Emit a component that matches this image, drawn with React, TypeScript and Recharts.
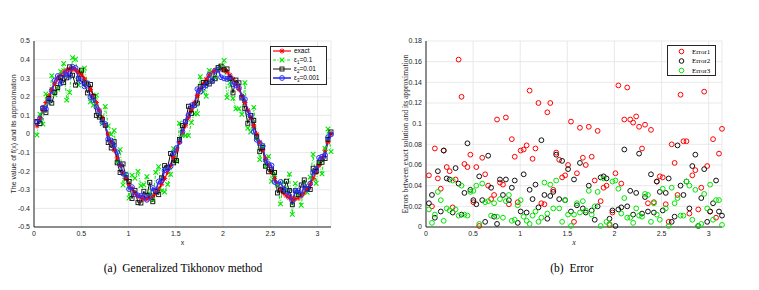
import { CartesianGrid, Line, LineChart, Scatter, ScatterChart, XAxis, YAxis } from 'recharts';

// grid points on (0, pi]
const xs = [
  0.031, 0.063, 0.094, 0.126, 0.157, 0.188, 0.22, 0.251, 0.283, 0.314,
  0.346, 0.377, 0.408, 0.44, 0.471, 0.503, 0.534, 0.565, 0.597, 0.628,
  0.66, 0.691, 0.723, 0.754, 0.785, 0.817, 0.848, 0.88, 0.911, 0.942,
  0.974, 1.005, 1.037, 1.068, 1.1, 1.131, 1.162, 1.194, 1.225, 1.257,
  1.288, 1.319, 1.351, 1.382, 1.414, 1.445, 1.477, 1.508, 1.539, 1.571,
  1.602, 1.634, 1.665, 1.696, 1.728, 1.759, 1.791, 1.822, 1.854, 1.885,
  1.916, 1.948, 1.979, 2.011, 2.042, 2.073, 2.105, 2.136, 2.168, 2.199,
  2.231, 2.262, 2.293, 2.325, 2.356, 2.388, 2.419, 2.45, 2.482, 2.513,
  2.545, 2.576, 2.608, 2.639, 2.67, 2.702, 2.733, 2.765, 2.796, 2.827,
  2.859, 2.89, 2.922, 2.953, 2.985, 3.016, 3.047, 3.079, 3.11, 3.142,
];

const exact = [
  0.044, 0.087, 0.129, 0.169, 0.206, 0.24, 0.27, 0.296, 0.317, 0.333,
  0.344, 0.349, 0.349, 0.344, 0.333, 0.317, 0.296, 0.27, 0.24, 0.206,
  0.169, 0.129, 0.087, 0.044, 0.0, -0.044, -0.087, -0.129, -0.169, -0.206,
  -0.24, -0.27, -0.296, -0.317, -0.333, -0.344, -0.349, -0.349, -0.344, -0.333,
  -0.317, -0.296, -0.27, -0.24, -0.206, -0.169, -0.129, -0.087, -0.044, 0.0,
  0.044, 0.087, 0.129, 0.169, 0.206, 0.24, 0.27, 0.296, 0.317, 0.333,
  0.344, 0.349, 0.349, 0.344, 0.333, 0.317, 0.296, 0.27, 0.24, 0.206,
  0.169, 0.129, 0.087, 0.044, 0.0, -0.044, -0.087, -0.129, -0.169, -0.206,
  -0.24, -0.27, -0.296, -0.317, -0.333, -0.344, -0.349, -0.349, -0.344, -0.333,
  -0.317, -0.296, -0.27, -0.24, -0.206, -0.169, -0.129, -0.087, -0.044, 0.0,
];

// eps1 = 0.1
const approx1 = [
  -0.006, 0.107, 0.053, 0.216, 0.169, 0.314, 0.212, 0.242, 0.336, 0.379,
  0.182, 0.223, 0.41, 0.402, 0.263, 0.341, 0.354, 0.271, 0.173, 0.155,
  0.209, 0.102, 0.056, 0.148, 0.043, -0.003, 0.019, -0.151, -0.084, -0.274,
  -0.216, -0.344, -0.221, -0.238, -0.201, -0.278, -0.273, -0.229, -0.321, -0.355,
  -0.206, -0.176, -0.306, -0.312, -0.271, -0.217, -0.079, -0.147, 0.058, -0.005,
  -0.008, -0.009, 0.062, 0.109, 0.109, 0.308, 0.225, 0.203, 0.342, 0.295,
  0.304, 0.351, 0.363, 0.396, 0.196, 0.275, 0.192, 0.135, 0.136, 0.105,
  0.276, 0.032, 0.011, 0.143, -0.023, -0.138, -0.063, -0.173, -0.12, -0.254,
  -0.218, -0.275, -0.376, -0.255, -0.302, -0.216, -0.432, -0.266, -0.331, -0.383,
  -0.262, -0.313, -0.232, -0.109, -0.265, -0.154, -0.214, -0.078, 0.027, -0.095,
];

// eps2 = 0.01
const approx2 = [
  0.067, 0.056, 0.138, 0.115, 0.191, 0.166, 0.223, 0.25, 0.303, 0.276,
  0.302, 0.361, 0.316, 0.263, 0.297, 0.343, 0.274, 0.221, 0.266, 0.201,
  0.1, 0.091, 0.077, 0.047, -0.046, -0.075, -0.041, -0.155, -0.207, -0.161,
  -0.236, -0.255, -0.347, -0.303, -0.369, -0.371, -0.308, -0.33, -0.26, -0.364,
  -0.309, -0.326, -0.236, -0.17, -0.179, -0.105, -0.155, -0.143, -0.029, 0.046,
  0.065, 0.149, 0.111, 0.155, 0.166, 0.256, 0.277, 0.276, 0.269, 0.284,
  0.297, 0.357, 0.365, 0.345, 0.35, 0.298, 0.221, 0.29, 0.275, 0.194,
  0.136, 0.058, 0.1, 0.073, -0.015, -0.095, -0.073, -0.173, -0.203, -0.19,
  -0.207, -0.317, -0.301, -0.307, -0.254, -0.304, -0.38, -0.305, -0.326, -0.274,
  -0.247, -0.295, -0.298, -0.184, -0.201, -0.154, -0.152, -0.132, -0.029, 0.011,
];

// eps3 = 0.001
const approx3 = [
  0.061, 0.083, 0.141, 0.135, 0.18, 0.234, 0.288, 0.312, 0.272, 0.316,
  0.333, 0.309, 0.361, 0.355, 0.299, 0.282, 0.256, 0.273, 0.198, 0.182,
  0.144, 0.118, 0.064, 0.054, -0.027, -0.035, -0.062, -0.098, -0.163, -0.213,
  -0.219, -0.296, -0.286, -0.323, -0.33, -0.333, -0.334, -0.354, -0.335, -0.29,
  -0.304, -0.255, -0.252, -0.195, -0.188, -0.174, -0.103, -0.075, -0.043, 0.012,
  0.067, 0.101, 0.154, 0.153, 0.241, 0.228, 0.25, 0.262, 0.318, 0.286,
  0.339, 0.346, 0.305, 0.299, 0.296, 0.304, 0.268, 0.261, 0.249, 0.202,
  0.187, 0.118, 0.097, 0.012, -0.031, -0.049, -0.064, -0.141, -0.162, -0.169,
  -0.258, -0.269, -0.258, -0.294, -0.305, -0.333, -0.36, -0.305, -0.304, -0.326,
  -0.281, -0.297, -0.267, -0.208, -0.188, -0.128, -0.122, -0.113, -0.018, -0.002,
];

const error1 = [
  0.05, 0.02, 0.076, 0.047, 0.037, 0.074, 0.058, 0.054, 0.019, 0.046,
  0.162, 0.126, 0.061, 0.058, 0.07, 0.024, 0.058, 0.001, 0.067, 0.051,
  0.04, 0.027, 0.031, 0.104, 0.043, 0.041, 0.106, 0.022, 0.085, 0.068,
  0.024, 0.074, 0.075, 0.079, 0.132, 0.066, 0.076, 0.12, 0.023, 0.022,
  0.111, 0.12, 0.036, 0.072, 0.065, 0.048, 0.05, 0.06, 0.102, 0.005,
  0.052, 0.096, 0.067, 0.06, 0.097, 0.068, 0.045, 0.093, 0.025, 0.038,
  0.04, 0.002, 0.014, 0.052, 0.137, 0.042, 0.104, 0.135, 0.104, 0.101,
  0.107, 0.097, 0.076, 0.099, 0.023, 0.094, 0.024, 0.044, 0.049, 0.048,
  0.022, 0.005, 0.08, 0.062, 0.031, 0.128, 0.083, 0.083, 0.013, 0.05,
  0.055, 0.017, 0.038, 0.131, 0.059, 0.015, 0.085, 0.009, 0.071, 0.095,
];

const error2 = [
  0.023, 0.031, 0.009, 0.054, 0.015, 0.074, 0.047, 0.046, 0.014, 0.057,
  0.042, 0.012, 0.033, 0.081, 0.036, 0.026, 0.022, 0.049, 0.026, 0.005,
  0.069, 0.038, 0.01, 0.003, 0.046, 0.031, 0.046, 0.026, 0.038, 0.045,
  0.004, 0.015, 0.051, 0.014, 0.036, 0.027, 0.041, 0.019, 0.084, 0.031,
  0.008, 0.03, 0.034, 0.07, 0.027, 0.064, 0.026, 0.056, 0.015, 0.046,
  0.021, 0.062, 0.018, 0.014, 0.04, 0.016, 0.007, 0.02, 0.048, 0.049,
  0.047, 0.008, 0.016, 0.001, 0.017, 0.019, 0.075, 0.02, 0.035, 0.012,
  0.033, 0.071, 0.013, 0.029, 0.015, 0.051, 0.014, 0.044, 0.034, 0.016,
  0.033, 0.047, 0.005, 0.01, 0.079, 0.04, 0.031, 0.044, 0.018, 0.059,
  0.07, 0.001, 0.028, 0.056, 0.005, 0.015, 0.023, 0.045, 0.015, 0.011,
];

const error3 = [
  0.017, 0.004, 0.012, 0.034, 0.026, 0.006, 0.018, 0.016, 0.045, 0.017,
  0.011, 0.04, 0.012, 0.011, 0.034, 0.035, 0.04, 0.003, 0.042, 0.024,
  0.025, 0.011, 0.023, 0.01, 0.027, 0.009, 0.025, 0.031, 0.006, 0.007,
  0.021, 0.026, 0.01, 0.006, 0.003, 0.011, 0.015, 0.005, 0.009, 0.043,
  0.013, 0.041, 0.018, 0.045, 0.018, 0.005, 0.026, 0.012, 0.001, 0.012,
  0.023, 0.014, 0.025, 0.016, 0.035, 0.012, 0.02, 0.034, 0.001, 0.047,
  0.005, 0.003, 0.044, 0.045, 0.037, 0.013, 0.028, 0.009, 0.009, 0.004,
  0.018, 0.011, 0.01, 0.032, 0.031, 0.005, 0.023, 0.012, 0.007, 0.037,
  0.018, 0.001, 0.038, 0.023, 0.028, 0.011, 0.011, 0.044, 0.04, 0.007,
  0.036, 0.001, 0.003, 0.032, 0.018, 0.041, 0.007, 0.026, 0.026, 0.002,
];

const xTicks = [0, 0.5, 1, 1.5, 2, 2.5, 3];
const fitTicks = [-0.5, -0.4, -0.3, -0.2, -0.1, 0, 0.1, 0.2, 0.3, 0.4, 0.5];
const errTicks = [0, 0.02, 0.04, 0.06, 0.08, 0.1, 0.12, 0.14, 0.16, 0.18];
const X_MAX = 3.1416;

const fitData = xs.map((x, i) => ({ x, exact: exact[i], a1: approx1[i], a2: approx2[i], a3: approx3[i] }));
const err1Data = xs.map((x, i) => ({ x, y: error1[i] }));
const err2Data = xs.map((x, i) => ({ x, y: error2[i] }));
const err3Data = xs.map((x, i) => ({ x, y: error3[i] }));

const RED = '#ff0000';
const GREEN = '#00e600';
const BLACK = '#111111';
const BLUE = '#2f2fff';
const AXIS = '#262626';
const GRID = '#e3e3e3';
const SANS = '"Liberation Sans", Arial, sans-serif';
const SERIF = '"Liberation Serif", "Times New Roman", serif';

const tickStyle = { fontSize: 7, fill: AXIS, fontFamily: SANS };

function StarMark({ cx, cy }: { cx: number; cy: number }) {
  const s = 2.6;
  const d = s * 0.7;
  return (
    <path
      d={`M${cx - s},${cy}L${cx + s},${cy}M${cx},${cy - s}L${cx},${cy + s}M${cx - d},${cy - d}L${cx + d},${cy + d}M${cx - d},${cy + d}L${cx + d},${cy - d}`}
      stroke={RED}
      strokeWidth={1}
      fill="none"
    />
  );
}

function CrossMark({ cx, cy }: { cx: number; cy: number }) {
  const s = 2.3;
  return (
    <path
      d={`M${cx - s},${cy - s}L${cx + s},${cy + s}M${cx - s},${cy + s}L${cx + s},${cy - s}`}
      stroke={GREEN}
      strokeWidth={1.1}
      fill="none"
    />
  );
}

function SquareMark({ cx, cy }: { cx: number; cy: number }) {
  return <rect x={cx - 2} y={cy - 2} width={4} height={4} stroke={BLACK} strokeWidth={0.9} fill="none" />;
}

function CircleMark({ cx, cy, color = BLUE, r = 2.4 }: { cx: number; cy: number; color?: string; r?: number }) {
  return <circle cx={cx} cy={cy} r={r} stroke={color} strokeWidth={1} fill="none" />;
}

function FitLegend() {
  const rows = [
    { y: 5, color: RED, dash: undefined, width: 1.2, mark: <StarMark cx={12} cy={5} />, label: <tspan>exact</tspan> },
    {
      y: 14,
      color: GREEN,
      dash: '3 1.5 1 1.5',
      width: 1,
      mark: <CrossMark cx={12} cy={14} />,
      label: (
        <>
          <tspan>ε</tspan>
          <tspan dy={1.8} fontSize={4.5}>1</tspan>
          <tspan dy={-1.8}>=0.1</tspan>
        </>
      ),
    },
    {
      y: 23,
      color: BLACK,
      dash: undefined,
      width: 1,
      mark: <SquareMark cx={12} cy={23} />,
      label: (
        <>
          <tspan>ε</tspan>
          <tspan dy={1.8} fontSize={4.5}>2</tspan>
          <tspan dy={-1.8}>=0.01</tspan>
        </>
      ),
    },
    {
      y: 32,
      color: BLUE,
      dash: undefined,
      width: 1.6,
      mark: <CircleMark cx={12} cy={32} />,
      label: (
        <>
          <tspan>ε</tspan>
          <tspan dy={1.8} fontSize={4.5}>3</tspan>
          <tspan dy={-1.8}>=0.001</tspan>
        </>
      ),
    },
  ];
  return (
    <svg width={57} height={39} style={{ position: 'absolute', left: 270, top: 46 }}>
      <rect x={0.5} y={0.5} width={56} height={38} fill="#fff" stroke={AXIS} strokeWidth={1} />
      {rows.map((r, i) => (
        <g key={i}>
          <line x1={3} x2={21} y1={r.y} y2={r.y} stroke={r.color} strokeWidth={r.width} strokeDasharray={r.dash} />
          {r.mark}
          <text x={24} y={r.y + 2.2} fontSize={6.5} fontFamily={SANS} fill="#000">
            {r.label}
          </text>
        </g>
      ))}
    </svg>
  );
}

function ErrorLegend() {
  const rows = [
    { y: 6.5, color: RED, label: 'Error1' },
    { y: 16, color: BLACK, label: 'Error2' },
    { y: 25.5, color: GREEN, label: 'Error3' },
  ];
  return (
    <svg width={49} height={31} style={{ position: 'absolute', left: 667, top: 45 }}>
      <rect x={0.5} y={0.5} width={48} height={30} fill="#fff" stroke={AXIS} strokeWidth={1} />
      {rows.map((r) => (
        <g key={r.label}>
          <CircleMark cx={14.5} cy={r.y} color={r.color} r={2.3} />
          <text x={25} y={r.y + 2.4} fontSize={7} fontFamily={SERIF} fill="#000">
            {r.label}
          </text>
        </g>
      ))}
    </svg>
  );
}

export default function App() {
  return (
    <div style={{ position: 'absolute', left: 0, top: 0, width: 759, height: 290, background: '#fff', overflow: 'hidden' }}>
      <div style={{ position: 'absolute', left: 0, top: 0 }}>
        <LineChart width={345} height={250} data={fitData} margin={{ top: 41, right: 14, bottom: 0, left: 0 }}>
          <CartesianGrid stroke={GRID} strokeWidth={0.8} />
          <XAxis
            dataKey="x"
            type="number"
            domain={[0, X_MAX]}
            ticks={xTicks}
            interval={0}
            height={23}
            tickSize={0}
            tickMargin={4}
            tick={tickStyle}
            axisLine={{ stroke: AXIS }}
            tickLine={false}
            label={{ value: 'x', position: 'insideBottom', offset: 5, style: { fontSize: 7, fill: AXIS, fontFamily: SANS } }}
          />
          <XAxis xAxisId="top" orientation="top" type="number" domain={[0, X_MAX]} height={0} tick={false} tickLine={false} axisLine={{ stroke: AXIS }} />
          <YAxis
            type="number"
            domain={[-0.5, 0.5]}
            ticks={fitTicks}
            interval={0}
            width={34}
            tickSize={0}
            tickMargin={4}
            tick={tickStyle}
            axisLine={{ stroke: AXIS }}
            tickLine={false}
            allowDataOverflow
            label={{
              value: 'The value of f(x) and its approximation',
              angle: -90,
              position: 'insideLeft',
              offset: 14,
              style: { fontSize: 7, fill: AXIS, fontFamily: SANS, textAnchor: 'middle' },
            }}
          />
          <YAxis yAxisId="right" orientation="right" type="number" domain={[-0.5, 0.5]} width={0} tick={false} tickLine={false} axisLine={{ stroke: AXIS }} />
          <Line
            dataKey="exact"
            stroke={RED}
            strokeWidth={1.2}
            isAnimationActive={false}
            activeDot={false}
            dot={(p: any) => <StarMark key={`s${p.index}`} cx={p.cx} cy={p.cy} />}
          />
          <Line
            dataKey="a1"
            stroke={GREEN}
            strokeWidth={1}
            strokeDasharray="3 1.5 1 1.5"
            isAnimationActive={false}
            activeDot={false}
            dot={(p: any) => <CrossMark key={`c${p.index}`} cx={p.cx} cy={p.cy} />}
          />
          <Line
            dataKey="a2"
            stroke={BLACK}
            strokeWidth={1}
            isAnimationActive={false}
            activeDot={false}
            dot={(p: any) => <SquareMark key={`q${p.index}`} cx={p.cx} cy={p.cy} />}
          />
          <Line
            dataKey="a3"
            stroke={BLUE}
            strokeWidth={1.6}
            isAnimationActive={false}
            activeDot={false}
            dot={(p: any) => <CircleMark key={`o${p.index}`} cx={p.cx} cy={p.cy} />}
          />
        </LineChart>
      </div>
      <FitLegend />

      <div style={{ position: 'absolute', left: 380, top: 0 }}>
        <ScatterChart width={360} height={250} margin={{ top: 41, right: 18, bottom: 0, left: 0 }}>
          <CartesianGrid stroke={GRID} strokeWidth={0.8} />
          <XAxis
            dataKey="x"
            type="number"
            domain={[0, X_MAX]}
            ticks={xTicks}
            interval={0}
            height={23}
            tickSize={0}
            tickMargin={4}
            tick={tickStyle}
            axisLine={{ stroke: AXIS }}
            tickLine={false}
            label={{ value: 'x', position: 'insideBottom', offset: 5, style: { fontSize: 8, fill: AXIS, fontFamily: SERIF, fontStyle: 'italic' } }}
          />
          <YAxis
            dataKey="y"
            type="number"
            domain={[0, 0.18]}
            ticks={errTicks}
            interval={0}
            width={46}
            tickSize={0}
            tickMargin={4}
            tick={tickStyle}
            axisLine={{ stroke: AXIS }}
            tickLine={false}
            label={{
              value: 'Errors between exact solution and its approximation',
              angle: -90,
              position: 'insideLeft',
              offset: 25,
              style: { fontSize: 7.6, fill: AXIS, fontFamily: SERIF, textAnchor: 'middle' },
            }}
          />
          <Scatter data={err1Data} isAnimationActive={false} shape={(p: any) => <CircleMark cx={p.cx} cy={p.cy} color={RED} r={2.4} />} />
          <Scatter data={err2Data} isAnimationActive={false} shape={(p: any) => <CircleMark cx={p.cx} cy={p.cy} color={BLACK} r={2.4} />} />
          <Scatter data={err3Data} isAnimationActive={false} shape={(p: any) => <CircleMark cx={p.cx} cy={p.cy} color={GREEN} r={2.4} />} />
        </ScatterChart>
      </div>
      <ErrorLegend />

      <div style={{ position: 'absolute', left: 33, top: 262, width: 300, textAlign: 'center', fontFamily: SERIF, fontSize: 11.5, whiteSpace: 'pre', color: '#000' }}>
        {'(a)  Generalized Tikhonov method'}
      </div>
      <div style={{ position: 'absolute', left: 422, top: 262, width: 300, textAlign: 'center', fontFamily: SERIF, fontSize: 11.5, whiteSpace: 'pre', color: '#000' }}>
        {'(b)  Error'}
      </div>
    </div>
  );
}
